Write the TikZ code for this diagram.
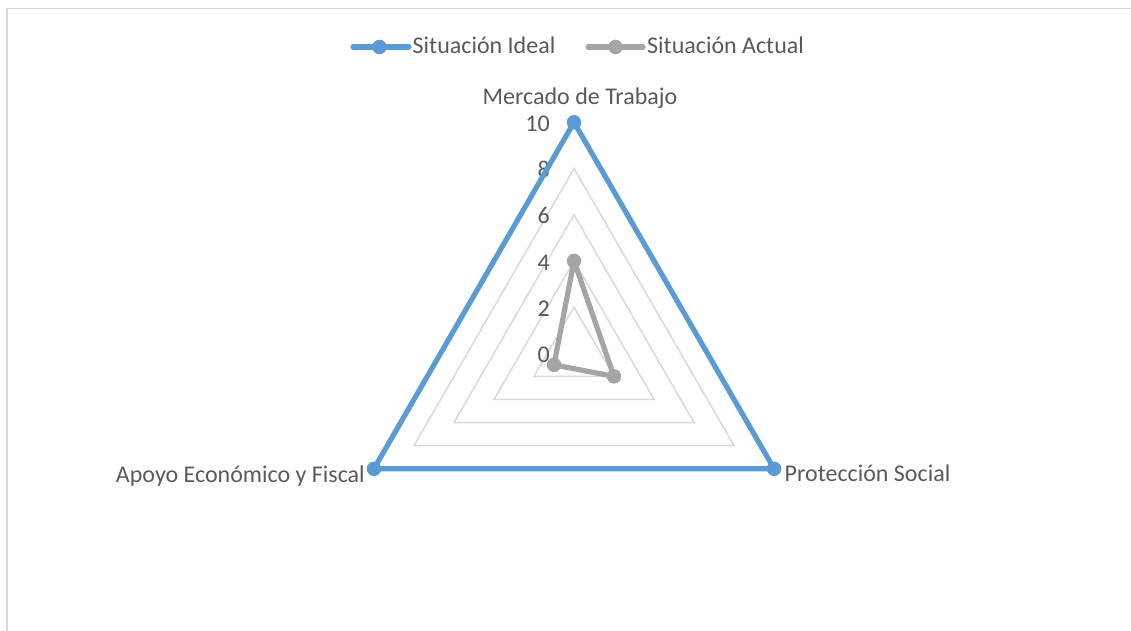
\documentclass[tikz,border=0pt]{standalone}
\usepackage{fontspec}
\setmainfont{Carlito}
\usepackage{tikz}
\usetikzlibrary{positioning}
\definecolor{idealblue}{HTML}{5B9BD5}
\definecolor{actualgray}{HTML}{A5A5A5}
\definecolor{gridgray}{HTML}{D9D9D9}
\definecolor{labelgray}{HTML}{595959}
\tikzset{
  x=1pt, y=1pt,
  every node/.style={text=labelgray, inner sep=0pt,
    font=\fontsize{24}{29}\selectfont},
  frame line/.style={gridgray, line width=1.5pt},
  grid line/.style={gridgray, line width=1.5pt},
  series/.style={line width=5.2pt, line join=round, line cap=round},
  marker/.style={circle, minimum size=14.5pt}
}

\begin{document}
\begin{tikzpicture}
    \useasboundingbox (0,0) rectangle (1131,631);
    \draw[frame line] (7,0) -- (7,622.5) -- (1131,622.5);

    % legend
    \coordinate (la) at (353,584);
    \coordinate (lb) at (409,584);
    \node[marker, fill=idealblue] (lm1) at (379.5,584) {};
    \draw[series, idealblue] (la) -- (lb);
    \node[anchor=base west] (lt1) at (412.5,577) {Situación Ideal};
    \coordinate (lc) at (588,584);
    \coordinate (ld) at (643,584);
    \node[marker, fill=actualgray] (lm2) at (615.5,584) {};
    \draw[series, actualgray] (lc) -- (ld);
    \node[anchor=base west] (lt2) at (647,577) {Situación Actual};

    \begin{scope}[shift={(574,277.7)}]
      % grid
      \foreach \v in {2,4,...,10}
        \draw[grid line] (90:{23.1*\v}) -- (-30:{23.1*\v}) -- (210:{23.1*\v}) -- cycle;
      \foreach \v in {0,2,...,10}
        \node[anchor=base east] (tick\v) at (-24,{23.1*\v-9.3}) {\v};

      % Situacion Ideal
      \node[marker, fill=idealblue] (mer) at (90:231) {};
      \node[marker, fill=idealblue] (pro) at (-30:231) {};
      \node[marker, fill=idealblue] (apo) at (210:231) {};
      \draw[series, idealblue] (mer.center) -- (pro.center) -- (apo.center) -- cycle;

      % Situacion Actual
      \node[marker, fill=actualgray] (amer) at (90:92.4) {};
      \node[marker, fill=actualgray] (apro) at (-30:46.2) {};
      \node[marker, fill=actualgray] (aapo) at (210:23.1) {};
      \draw[series, actualgray] (amer.center) -- (apro.center) -- (aapo.center) -- cycle;
    \end{scope}

    % axis labels
    \node[anchor=base] (lmer) at (580,526) {Mercado de Trabajo};
    \node[anchor=base west] (lpro) at (784.5,149) {Protección Social};
    \node[anchor=base east] (lapo) at (365,148) {Apoyo Económico y Fiscal};
\end{tikzpicture}
\end{document}
